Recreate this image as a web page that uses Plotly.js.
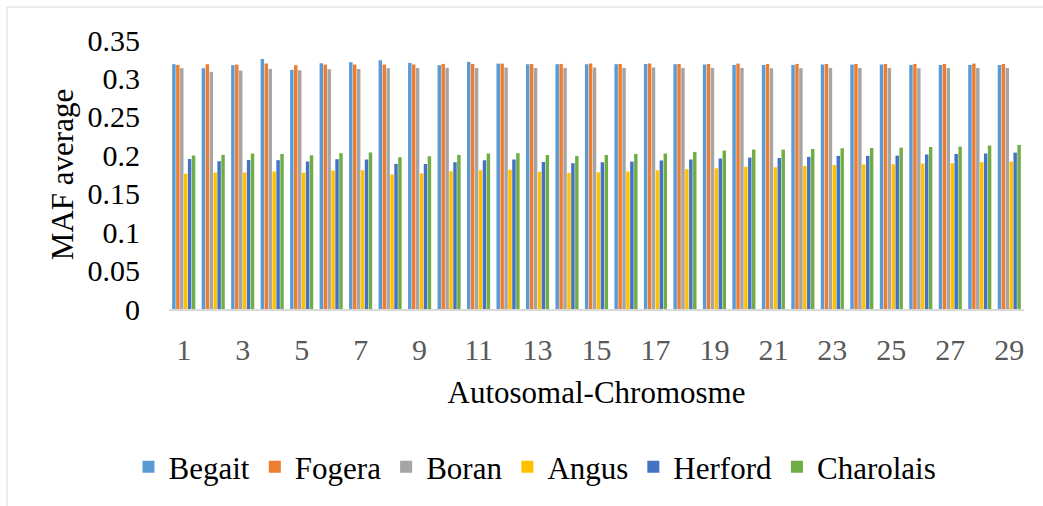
<!DOCTYPE html>
<html>
<head>
<meta charset="utf-8">
<script src="https://cdn.plot.ly/plotly-3.0.1.min.js"></script>
<style>
  html, body { margin: 0; padding: 0; background: #ffffff; }
  #chart { width: 1043px; height: 506px; }
</style>
</head>
<body>
<div id="chart"></div>
<script>
// Chromosome numbers (categories)
const chromosomes = ["1","2","3","4","5","6","7","8","9","10","11","12","13","14","15","16","17","18","19","20","21","22","23","24","25","26","27","28","29"];
const tickLabels = ["1","3","5","7","9","11","13","15","17","19","21","23","25","27","29"];

// MAF average per breed
const begait    = [0.3185,0.3133,0.3172,0.3254,0.3111,0.3198,0.3211,0.3237,0.3202,0.3172,0.3215,0.3193,0.3185,0.3185,0.3185,0.3185,0.3189,0.3185,0.3180,0.3176,0.3176,0.3176,0.3180,0.3180,0.3180,0.3176,0.3176,0.3176,0.3176];
const fogera    = [0.3176,0.3185,0.3180,0.3193,0.3172,0.3180,0.3180,0.3180,0.3180,0.3189,0.3189,0.3193,0.3189,0.3189,0.3193,0.3189,0.3193,0.3189,0.3189,0.3193,0.3189,0.3189,0.3189,0.3189,0.3189,0.3189,0.3189,0.3193,0.3189];
const boran     = [0.3133,0.3085,0.3102,0.3124,0.3107,0.3120,0.3124,0.3133,0.3137,0.3137,0.3137,0.3141,0.3137,0.3137,0.3141,0.3137,0.3141,0.3137,0.3137,0.3137,0.3133,0.3133,0.3137,0.3137,0.3137,0.3133,0.3137,0.3137,0.3137];
const angus     = [0.1759,0.1776,0.1776,0.1789,0.1772,0.1802,0.1806,0.1750,0.1763,0.1793,0.1806,0.1811,0.1785,0.1772,0.1780,0.1789,0.1806,0.1819,0.1832,0.1850,0.1845,0.1862,0.1875,0.1880,0.1884,0.1893,0.1897,0.1910,0.1918];
const herford   = [0.1953,0.1923,0.1940,0.1936,0.1918,0.1949,0.1945,0.1888,0.1888,0.1910,0.1936,0.1945,0.1914,0.1897,0.1910,0.1918,0.1931,0.1945,0.1957,0.1970,0.1966,0.1979,0.1992,0.1992,0.1996,0.2009,0.2018,0.2022,0.2035];
const charolais = [0.1996,0.2005,0.2022,0.2018,0.2001,0.2027,0.2035,0.1975,0.1988,0.2005,0.2022,0.2027,0.2005,0.1992,0.2005,0.2018,0.2022,0.2044,0.2061,0.2074,0.2074,0.2083,0.2091,0.2096,0.2100,0.2109,0.2113,0.2126,0.2135];

const seriesNames = ["Begait","Fogera","Boran","Angus","Herford","Charolais"];
const seriesValues = [begait, fogera, boran, angus, herford, charolais];
const seriesColors = ["#5B9BD5","#ED7D31","#A5A5A5","#FFC000","#4472C4","#70AD47"];

const FONT = "'Liberation Serif', 'Times New Roman', serif";

const traces = seriesNames.map((name, i) => ({
  type: "bar",
  name: name,
  x: chromosomes,
  y: seriesValues[i],
  marker: { color: seriesColors[i], line: { width: 0 } },
  hoverinfo: "x+y+name"
}));

// plot area in px: left 169, right 1024, top 40, bottom 309
const L = 169, R = 1024, T = 40, B = 309;
const pw = R - L, ph = B - T;
const px = v => (v - L) / pw;
const py = v => (B - v) / ph;

const layout = {
  width: 1043,
  height: 506,
  margin: { l: L, r: 1043 - R, t: T, b: 506 - B, pad: 0 },
  paper_bgcolor: "#ffffff",
  plot_bgcolor: "#ffffff",
  barmode: "group",
  bargap: 0.2,
  bargroupgap: 0.12,
  showlegend: true,
  font: { family: FONT, color: "#000000", size: 30 },
  xaxis: {
    type: "category",
    tickmode: "array",
    tickvals: tickLabels,
    ticktext: tickLabels,
    tickfont: { family: FONT, size: 30, color: "#595959" },
    ticks: "",
    ticklabelstandoff: 13,
    showgrid: false,
    zeroline: false,
    showline: true,
    linecolor: "#d9d9d9",
    linewidth: 2,
    automargin: false,
    title: { text: "Autosomal-Chromosme", font: { family: FONT, size: 31, color: "#000000" }, standoff: 16 }
  },
  yaxis: {
    range: [0, 0.35],
    tickmode: "array",
    tickvals: [0, 0.05, 0.1, 0.15, 0.2, 0.25, 0.3, 0.35],
    ticktext: ["0","0.05","0.1","0.15","0.2","0.25","0.3","0.35"],
    tickfont: { family: FONT, size: 30, color: "#000000" },
    ticks: "",
    ticklabelstandoff: 28,
    showgrid: false,
    zeroline: false,
    showline: false,
    automargin: false,
    title: { text: "MAF average", font: { family: FONT, size: 31, color: "#000000" }, standoff: 4 }
  },
  legend: {
    orientation: "h",
    x: px(535),
    xanchor: "center",
    y: py(467),
    yanchor: "middle",
    font: { family: FONT, size: 31, color: "#000000" },
    bgcolor: "rgba(0,0,0,0)",
    traceorder: "normal"
  },
  shapes: [
    { type: "line", xref: "paper", yref: "paper", x0: px(7), x1: px(1043), y0: py(7), y1: py(7), line: { color: "#d9d9d9", width: 1 } },
    { type: "line", xref: "paper", yref: "paper", x0: px(7), x1: px(7), y0: py(7), y1: py(506), line: { color: "#d9d9d9", width: 1 } }
  ]
};

Plotly.newPlot("chart", traces, layout, { displayModeBar: false, staticPlot: true });
</script>
</body>
</html>
